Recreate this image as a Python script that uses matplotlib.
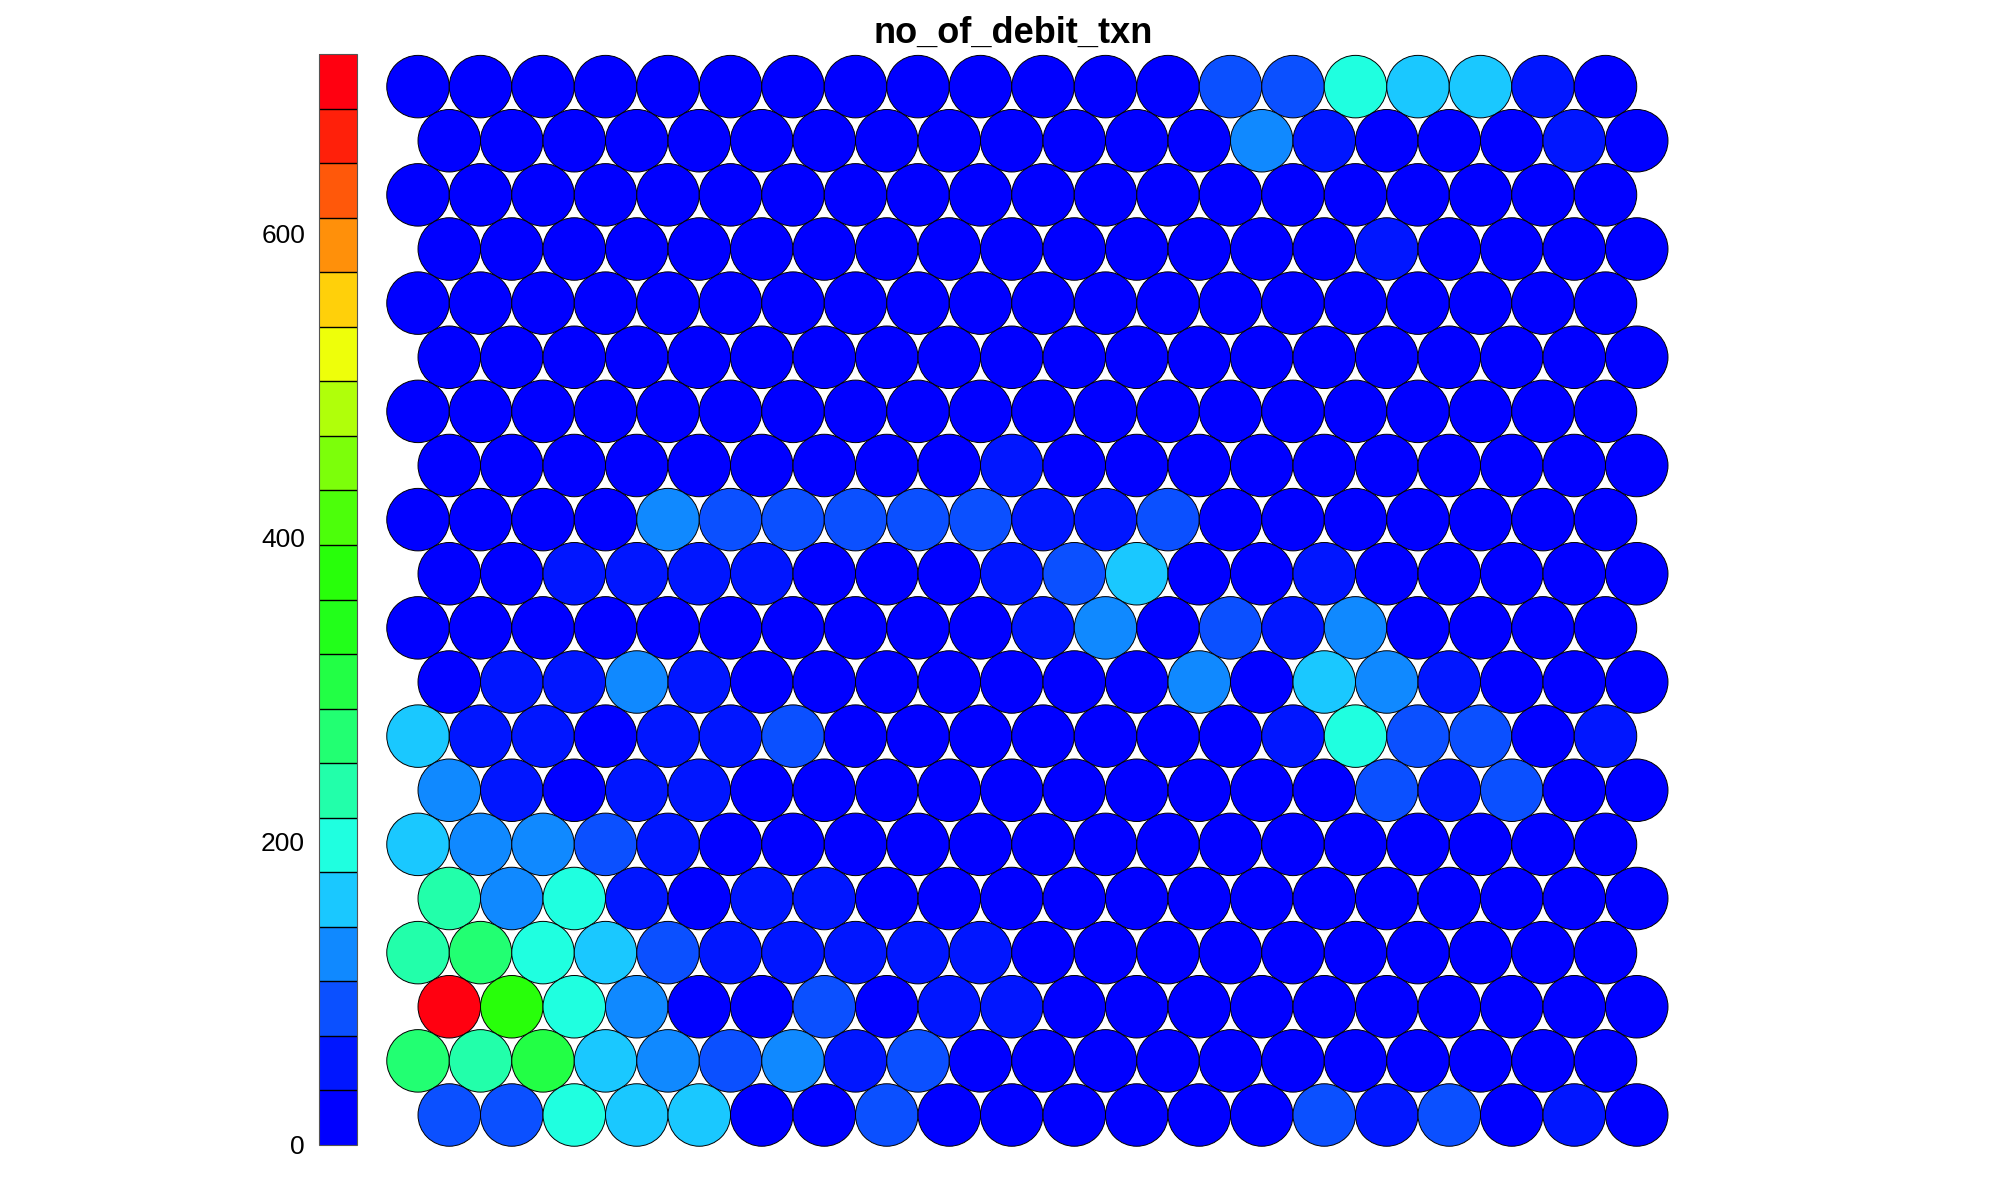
import numpy as np
import matplotlib
matplotlib.use("Agg")
import matplotlib.pyplot as plt
from matplotlib.patches import Circle
from matplotlib.collections import PatchCollection
from matplotlib.colors import ListedColormap, BoundaryNorm

plt.rcParams["font.family"] = ["Liberation Sans", "DejaVu Sans"]

TITLE = "no_of_debit_txn"
N_ROWS, N_COLS = 20, 20

# node values of the SOM grid, top row first (odd rows from top are not shifted)
NODE_VALUES = [
    [12, 10, 9, 11, 10, 8, 9, 10, 12, 11, 13, 14, 15, 88, 86, 198, 160, 158, 45, 16],
    [8, 10, 9, 11, 12, 10, 9, 8, 10, 11, 12, 13, 14, 125, 48, 20, 18, 22, 44, 15],
    [9, 10, 8, 9, 10, 11, 0, 9, 10, 9, 10, 11, 12, 13, 12, 14, 15, 13, 12, 10],
    [10, 9, 8, 9, 10, 11, 10, 9, 10, 12, 11, 13, 14, 15, 16, 40, 18, 16, 14, 12],
    [11, 10, 9, 10, 9, 8, 9, 10, 11, 12, 10, 11, 12, 13, 14, 12, 11, 10, 9, 8],
    [10, 9, 10, 11, 10, 9, 8, 9, 10, 11, 12, 11, 10, 12, 13, 12, 11, 10, 9, 8],
    [9, 10, 11, 10, 9, 10, 11, 12, 11, 10, 11, 12, 13, 12, 11, 10, 9, 10, 11, 10],
    [10, 11, 10, 12, 13, 12, 11, 12, 13, 40, 14, 13, 12, 11, 12, 13, 14, 12, 11, 10],
    [12, 11, 13, 15, 130, 90, 92, 94, 96, 95, 55, 50, 85, 20, 18, 16, 14, 12, 11, 10],
    [14, 16, 42, 44, 40, 38, 24, 22, 25, 45, 88, 165, 28, 26, 42, 20, 18, 16, 14, 12],
    [16, 18, 20, 22, 24, 26, 28, 26, 24, 30, 40, 128, 32, 90, 45, 124, 30, 22, 18, 15],
    [20, 48, 46, 126, 44, 30, 28, 26, 24, 30, 32, 30, 125, 32, 160, 127, 40, 30, 26, 24],
    [165, 45, 42, 30, 44, 46, 92, 30, 28, 26, 28, 30, 30, 28, 50, 196, 90, 88, 30, 38],
    [128, 50, 32, 48, 46, 30, 28, 26, 28, 30, 28, 26, 24, 26, 28, 92, 48, 90, 30, 28],
    [164, 122, 120, 86, 50, 30, 28, 26, 24, 22, 20, 22, 24, 22, 20, 22, 24, 22, 20, 18],
    [232, 124, 198, 48, 32, 46, 44, 34, 30, 28, 26, 24, 22, 20, 18, 20, 22, 20, 18, 16],
    [234, 270, 195, 160, 88, 46, 48, 50, 52, 44, 30, 26, 24, 22, 20, 18, 20, 18, 16, 14],
    [718, 376, 197, 124, 34, 32, 86, 34, 46, 44, 28, 28, 24, 22, 20, 18, 16, 14, 16, 15],
    [268, 230, 305, 162, 126, 90, 123, 45, 88, 32, 30, 28, 26, 24, 22, 20, 18, 16, 14, 12],
    [90, 92, 197, 161, 160, 30, 34, 89, 32, 30, 28, 26, 24, 22, 90, 40, 92, 30, 45, 20],
]

# 20-step palette, blue (low) -> red (high)
PALETTE = [
    "#0000ff", "#0016ff", "#0b50ff", "#1089ff", "#1ac8ff",
    "#1fffe0", "#22ffaa", "#22ff72", "#22ff45", "#22ff1a",
    "#28ff0a", "#4cff0a", "#7cff0a", "#b0ff0a", "#eeff0a",
    "#ffd00a", "#ff900a", "#ff580a", "#ff200a", "#ff0010",
]
CBAR_TICKS = [0, 200, 400, 600]

values = np.array(NODE_VALUES, dtype=float)
vmin, vmax = 0.0, values.max()
cmap = ListedColormap(PALETTE)
norm = BoundaryNorm(np.linspace(vmin, vmax, len(PALETTE) + 1), cmap.N)

fig = plt.figure(figsize=(20, 12), dpi=100)

# hex grid of circles
ax = fig.add_axes([380.5 / 2000, 47.5 / 1200, 1293.75 / 2000, 1103.1 / 1200])
patches, vals = [], []
for r in range(N_ROWS):
    for c in range(N_COLS):
        x = c + 1 + (0.5 if r % 2 == 1 else 0.0)
        y = (N_ROWS - 1 - r) * np.sqrt(3) / 2
        patches.append(Circle((x, y), 0.5))
        vals.append(values[r, c])
coll = PatchCollection(patches, cmap=cmap, norm=norm,
                       edgecolor="black", linewidth=0.7)
coll.set_array(np.array(vals))
ax.add_collection(coll)
ax.set_xlim(0.4, 21.1)
ax.set_ylim(-0.6, 17.05)
ax.set_aspect("equal")
ax.axis("off")

fig.text(1013 / 2000, 1 - 43 / 1200, TITLE, ha="center", va="baseline",
         fontsize=26, fontweight="bold")

# colour key
cax = fig.add_axes([319 / 2000, 55 / 1200, 38 / 2000, 1091 / 1200])
cb = fig.colorbar(coll, cax=cax, drawedges=True)
cb.dividers.set_color("black")
cb.dividers.set_linewidth(1.0)
cb.outline.set_edgecolor("#555555")
cb.outline.set_linewidth(0.8)
cb.set_ticks(CBAR_TICKS)
cb.minorticks_off()
cax.yaxis.set_ticks_position("left")
cax.yaxis.set_label_position("left")
cax.tick_params(which="both", length=0, pad=10, labelsize=19)

fig.savefig("out.png", dpi=100)
